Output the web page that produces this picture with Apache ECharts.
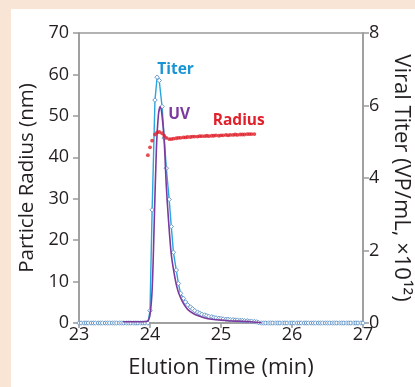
<!DOCTYPE html>
<html>
<head>
<meta charset="utf-8">
<script src="https://cdn.jsdelivr.net/npm/echarts@6/dist/echarts.min.js"></script>
<style>
html,body{margin:0;padding:0;background:#f8e5d5;}
#chart{width:415px;height:387px;}
</style>
</head>
<body>
<div id="chart"></div>
<script>
// Elution time grid (min) for titer samples
var times = [
23.00,23.03,23.07,23.10,23.13,23.17,23.20,23.23,23.27,23.30,23.33,23.37,23.40,23.43,23.47,23.50,23.53,23.57,23.60,23.63,23.67,23.70,23.73,23.77,23.80,23.83,23.87,23.90,23.93,23.97,
24.00,24.03,24.07,24.10,24.13,24.17,24.20,24.23,24.27,24.30,24.33,24.37,24.40,24.43,24.47,24.50,24.53,24.57,24.60,24.63,24.67,24.70,24.73,24.77,24.80,24.83,24.87,24.90,24.93,24.97,
25.00,25.03,25.07,25.10,25.13,25.17,25.20,25.23,25.27,25.30,25.33,25.37,25.40,25.43,25.47,25.50,25.53,25.57,25.60,25.63,25.67,25.70,25.73,25.77,25.80,25.83,25.87,25.90,25.93,25.97,
26.00,26.03,26.07,26.10,26.13,26.17,26.20,26.23,26.27,26.30,26.33,26.37,26.40,26.43,26.47,26.50,26.53,26.57,26.60,26.63,26.67,26.70,26.73,26.77,26.80,26.83,26.87,26.90,26.93,26.97,
27.00
];
// Viral titer (VP/mL x1e12), right axis
var titer = [
0,0,0,0,0,0,0,0,0,0,0,0,0,0,0,0,0,0,0,0,0,0,0,0,0,0,0,0,0,0,
0.34,3.12,6.15,6.78,6.69,5.97,5.1,4.27,3.41,2.66,1.95,1.46,1.09,0.82,0.68,0.58,0.50,0.44,0.39,0.34,0.30,0.27,0.24,0.22,0.20,0.18,0.17,0.15,0.14,0.13,
0.12,0.11,0.10,0.10,0.09,0.09,0.08,0.08,0.07,0.07,0.06,0.06,0.05,0.05,0.04,0.03,0.01,0,0,0,0,0,0,0,0,0,0,0,0,0,
0,0,0,0,0,0,0,0,0,0,0,0,0,0,0,0,0,0,0,0,0,0,0,0,0,0,0,0,0,0,
0
];
// UV trace (plotted on left scale)
var uvTimes = [23.62,23.80,23.90,23.97,24.00,24.03,24.056,24.09,24.12,24.145,24.17,24.20,24.23,24.26,24.30,24.34,24.38,24.42,24.47,24.53,24.61,24.70,24.80,24.90,25.00,25.15,25.30,25.45,25.57];
var uvValues = [0.3,0.3,0.3,0.5,2,8,22,42,50.5,52.2,50,44,33,25,16.5,12,8.6,6.5,4.75,3.3,2.3,1.6,1.1,0.85,0.7,0.5,0.4,0.25,0.05];
// Particle radius (nm)
var radiusTimes = [23.97,24.00,24.03,24.07,24.10,24.13,24.17,24.20,24.23,24.27,24.30,24.33,24.37,24.40,24.43,24.47,24.50,24.53,24.57,24.60,24.63,24.67,24.70,24.73,24.77,24.80,24.83,24.87,24.90,24.93,24.97,
25.00,25.03,25.07,25.10,25.13,25.17,25.20,25.23,25.27,25.30,25.33,25.37,25.40,25.43,25.47];
var radius = [40.5,42.4,44.0,45.5,46.0,46.1,45.8,45.2,44.7,44.4,44.4,44.5,44.6,44.7,44.7,44.8,44.8,44.9,44.9,45.0,45.0,45.0,45.1,45.1,45.1,45.2,45.1,45.2,45.2,45.3,45.2,
45.3,45.3,45.4,45.3,45.4,45.4,45.5,45.4,45.5,45.5,45.5,45.6,45.6,45.6,45.6];

function zip(a,b){var r=[];for(var i=0;i<a.length;i++){r.push([a[i],b[i]]);}return r;}

var FONT = 'Open Sans';
var AX = '#9a9a9a';
var TXT = '#231f20';
var chart = echarts.init(document.getElementById('chart'));
chart.setOption({
  animation:false,
  backgroundColor:'#f8e5d5',
  textStyle:{fontFamily:FONT},
  graphic:[{type:'rect',left:11,top:9,shape:{width:404,height:378},style:{fill:'#ffffff'},z:-10,silent:true}],
  grid:{left:79,right:52,top:33,bottom:64,containLabel:false,outerBoundsMode:'none',
    show:true,borderColor:AX,borderWidth:1.5,backgroundColor:'transparent'},
  xAxis:{type:'value',min:23,max:27,interval:1,
    name:'Elution Time (min)',nameLocation:'middle',nameGap:34,
    nameTextStyle:{fontSize:22,color:TXT,fontFamily:FONT},
    axisLine:{show:true,lineStyle:{color:AX,width:1.5}},
    axisTick:{show:true,length:5,lineStyle:{color:AX,width:1.5}},
    axisLabel:{fontSize:18,color:TXT,margin:3,fontFamily:FONT},
    splitLine:{show:false}},
  yAxis:[{type:'value',min:0,max:70,interval:10,position:'left',
    name:'Particle Radius (nm)',nameLocation:'middle',nameGap:40,nameRotate:90,
    nameTextStyle:{fontSize:20.5,color:TXT,fontFamily:FONT},
    axisLine:{show:true,lineStyle:{color:AX,width:1.5}},
    axisTick:{show:true,length:6,lineStyle:{color:AX,width:1.5}},
    axisLabel:{fontSize:18,color:TXT,margin:10,fontFamily:FONT},
    splitLine:{show:false}},
   {type:'value',min:0,max:8,interval:2,position:'right',
    name:'Viral Titer (VP/mL, ×10¹²)',nameLocation:'middle',nameGap:26,nameRotate:-90,
    nameTextStyle:{fontSize:22,color:TXT,fontFamily:FONT},
    axisLine:{show:true,lineStyle:{color:AX,width:1.5}},
    axisTick:{show:true,length:6,lineStyle:{color:AX,width:1.5}},
    axisLabel:{fontSize:18,color:TXT,margin:6,fontFamily:FONT},
    splitLine:{show:false}}],
  series:[
    {name:'Titer',type:'line',yAxisIndex:1,data:zip(times,titer),
     symbol:'diamond',symbolSize:4.5,showAllSymbol:true,
     lineStyle:{color:'#2aa6de',width:1.4},
     itemStyle:{color:'#ffffff',borderColor:'#6a9acb',borderWidth:1},
     markPoint:{symbol:'circle',symbolSize:0,data:[{coord:[24.36,6.99],
       label:{show:true,formatter:'Titer',color:'#1b94d4',fontSize:15.5,fontWeight:'bold',fontFamily:FONT}}]},
     z:3},
    {name:'UV',type:'line',yAxisIndex:0,data:zip(uvTimes,uvValues),smooth:0.3,
     symbol:'none',lineStyle:{color:'#7b3a9e',width:1.6},
     markPoint:{symbol:'circle',symbolSize:0,data:[{coord:[24.41,50.2],
       label:{show:true,formatter:'UV',color:'#7b3a9e',fontSize:15.5,fontWeight:'bold',fontFamily:FONT}}]},
     z:4},
    {name:'Radius',type:'scatter',yAxisIndex:0,data:zip(radiusTimes,radius),
     symbol:'circle',symbolSize:3.8,itemStyle:{color:'#e0202a'},
     markPoint:{symbol:'circle',symbolSize:0,data:[{coord:[25.25,48.8],
       label:{show:true,formatter:'Radius',color:'#e0202a',fontSize:15.5,fontWeight:'bold',fontFamily:FONT}}]},
     z:5}
  ]
});
</script>
</body>
</html>
